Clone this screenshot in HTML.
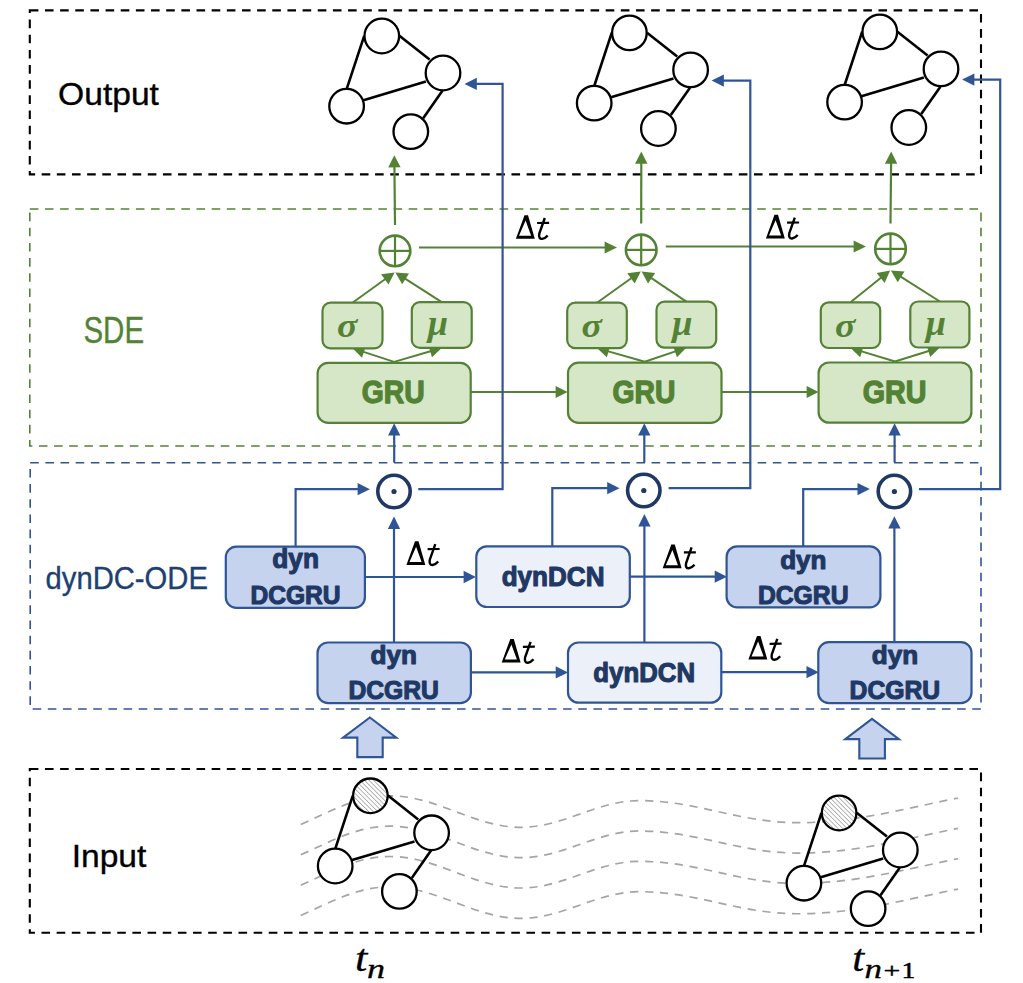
<!DOCTYPE html>
<html><head><meta charset="utf-8"><style>
html,body{margin:0;padding:0;background:#fff;}
svg{display:block;}
text{font-kerning:none;}
</style></head><body>
<svg width="1023" height="983" viewBox="0 0 1023 983">
<rect x="0" y="0" width="1023" height="983" fill="#ffffff"/>
<rect x="29.8" y="10.4" width="951.2" height="164" fill="none" stroke="#000000" stroke-width="2.1" stroke-dasharray="8.6 6.555"/>
<rect x="29.8" y="209" width="951.2" height="237" fill="none" stroke="#548235" stroke-width="1.6" stroke-dasharray="8.6 6.555"/>
<rect x="30.2" y="462.7" width="950.8" height="246.3" fill="none" stroke="#2F5597" stroke-width="1.6" stroke-dasharray="8.6 6.555"/>
<rect x="29.8" y="769" width="951.2" height="163.8" fill="none" stroke="#000000" stroke-width="2.1" stroke-dasharray="8.6 6.555"/>
<text transform="translate(58.08,105.23) scale(1.0499,1)" font-family="Liberation Sans, sans-serif" font-weight="normal" font-style="normal" font-size="32.01" fill="#000000"  stroke="#000000" stroke-width="0.35" stroke-linejoin="round">Output</text>
<text transform="translate(83.44,342.62) scale(0.8094,1)" font-family="Liberation Sans, sans-serif" font-weight="normal" font-style="normal" font-size="36.45" fill="#548235"  stroke="#548235" stroke-width="0.35" stroke-linejoin="round">SDE</text>
<text transform="translate(45.55,588.93) scale(0.9150,1)" font-family="Liberation Sans, sans-serif" font-weight="normal" font-style="normal" font-size="31.95" fill="#203F73"  stroke="#203F73" stroke-width="0.35" stroke-linejoin="round">dynDC-ODE</text>
<text transform="translate(71.68,867.03) scale(1.0672,1)" font-family="Liberation Sans, sans-serif" font-weight="normal" font-style="normal" font-size="31.47" fill="#000000"  stroke="#000000" stroke-width="0.35" stroke-linejoin="round">Input</text>
<path d="M300.8,824.5 C332.0,810.5 357.9,795.8 390,795.8 C437.7,795.8 473.3,827.3 521,827.3 C564.1,827.3 596.3,800.6 639.4,800.6 C696.8,800.6 739.6,822.7 797,822.7 C855.0,822.7 901.6,809.3 958,798.0" fill="none" stroke="#A5A5A5" stroke-width="1.7" stroke-dasharray="8.2 6.7"/>
<path d="M300.8,854.85 C332.0,840.8 357.9,826.1 390,826.15 C437.7,826.1 473.3,857.6 521,857.65 C564.1,857.6 596.3,831.0 639.4,830.95 C696.8,831.0 739.6,853.1 797,853.0500000000001 C855.0,853.1 901.6,839.6 958,828.35" fill="none" stroke="#A5A5A5" stroke-width="1.7" stroke-dasharray="8.2 6.7"/>
<path d="M300.8,885.2 C332.0,871.2 357.9,856.5 390,856.5 C437.7,856.5 473.3,888.0 521,888.0 C564.1,888.0 596.3,861.3 639.4,861.3000000000001 C696.8,861.3 739.6,883.4 797,883.4000000000001 C855.0,883.4 901.6,870.0 958,858.7" fill="none" stroke="#A5A5A5" stroke-width="1.7" stroke-dasharray="8.2 6.7"/>
<path d="M300.8,915.55 C332.0,901.5 357.9,886.8 390,886.8499999999999 C437.7,886.8 473.3,918.3 521,918.3499999999999 C564.1,918.3 596.3,891.7 639.4,891.6500000000001 C696.8,891.7 739.6,913.8 797,913.75 C855.0,913.8 901.6,900.3 958,889.05" fill="none" stroke="#A5A5A5" stroke-width="1.7" stroke-dasharray="8.2 6.7"/>
<defs><pattern id="hatch" patternUnits="userSpaceOnUse" width="3.2" height="3.2" patternTransform="rotate(-45)"><rect width="3.2" height="3.2" fill="#ffffff"/><line x1="0" y1="0" x2="0" y2="3.2" stroke="#555555" stroke-width="0.85"/></pattern></defs>
<line x1="364.20" y1="35.80" x2="346.80" y2="88.60" stroke="#000000" stroke-width="2.6"/>
<line x1="399.40" y1="35.80" x2="429.60" y2="59.60" stroke="#000000" stroke-width="2.6"/>
<line x1="361.80" y1="100.80" x2="425.90" y2="81.60" stroke="#000000" stroke-width="2.6"/>
<line x1="442.40" y1="90.80" x2="423.20" y2="118.20" stroke="#000000" stroke-width="2.6"/>
<circle cx="381.80" cy="36.00" r="17.3" fill="#ffffff" stroke="#000000" stroke-width="2.3"/>
<circle cx="443.00" cy="73.00" r="17.3" fill="#ffffff" stroke="#000000" stroke-width="2.3"/>
<circle cx="346.60" cy="106.20" r="17.3" fill="#ffffff" stroke="#000000" stroke-width="2.3"/>
<circle cx="410.80" cy="131.60" r="17.3" fill="#ffffff" stroke="#000000" stroke-width="2.3"/>
<line x1="611.80" y1="32.70" x2="594.40" y2="85.50" stroke="#000000" stroke-width="2.6"/>
<line x1="647.00" y1="32.70" x2="677.20" y2="56.50" stroke="#000000" stroke-width="2.6"/>
<line x1="609.40" y1="97.70" x2="673.50" y2="78.50" stroke="#000000" stroke-width="2.6"/>
<line x1="690.00" y1="87.70" x2="670.80" y2="115.10" stroke="#000000" stroke-width="2.6"/>
<circle cx="629.40" cy="32.90" r="17.3" fill="#ffffff" stroke="#000000" stroke-width="2.3"/>
<circle cx="690.60" cy="69.90" r="17.3" fill="#ffffff" stroke="#000000" stroke-width="2.3"/>
<circle cx="594.20" cy="103.10" r="17.3" fill="#ffffff" stroke="#000000" stroke-width="2.3"/>
<circle cx="658.40" cy="128.50" r="17.3" fill="#ffffff" stroke="#000000" stroke-width="2.3"/>
<line x1="862.20" y1="31.70" x2="844.80" y2="84.50" stroke="#000000" stroke-width="2.6"/>
<line x1="897.40" y1="31.70" x2="927.60" y2="55.50" stroke="#000000" stroke-width="2.6"/>
<line x1="859.80" y1="96.70" x2="923.90" y2="77.50" stroke="#000000" stroke-width="2.6"/>
<line x1="940.40" y1="86.70" x2="921.20" y2="114.10" stroke="#000000" stroke-width="2.6"/>
<circle cx="879.80" cy="31.90" r="17.3" fill="#ffffff" stroke="#000000" stroke-width="2.3"/>
<circle cx="941.00" cy="68.90" r="17.3" fill="#ffffff" stroke="#000000" stroke-width="2.3"/>
<circle cx="844.60" cy="102.10" r="17.3" fill="#ffffff" stroke="#000000" stroke-width="2.3"/>
<circle cx="908.80" cy="127.50" r="17.3" fill="#ffffff" stroke="#000000" stroke-width="2.3"/>
<line x1="352.80" y1="795.60" x2="335.40" y2="848.40" stroke="#000000" stroke-width="2.6"/>
<line x1="388.00" y1="795.60" x2="418.20" y2="819.40" stroke="#000000" stroke-width="2.6"/>
<line x1="350.40" y1="860.60" x2="414.50" y2="841.40" stroke="#000000" stroke-width="2.6"/>
<line x1="431.00" y1="850.60" x2="411.80" y2="878.00" stroke="#000000" stroke-width="2.6"/>
<circle cx="370.40" cy="795.80" r="17.3" fill="url(#hatch)" stroke="#000000" stroke-width="2.3"/>
<circle cx="431.60" cy="832.80" r="17.3" fill="#ffffff" stroke="#000000" stroke-width="2.3"/>
<circle cx="335.20" cy="866.00" r="17.3" fill="#ffffff" stroke="#000000" stroke-width="2.3"/>
<circle cx="399.40" cy="891.40" r="17.3" fill="#ffffff" stroke="#000000" stroke-width="2.3"/>
<line x1="821.50" y1="812.80" x2="804.10" y2="865.60" stroke="#000000" stroke-width="2.6"/>
<line x1="856.70" y1="812.80" x2="886.90" y2="836.60" stroke="#000000" stroke-width="2.6"/>
<line x1="819.10" y1="877.80" x2="883.20" y2="858.60" stroke="#000000" stroke-width="2.6"/>
<line x1="899.70" y1="867.80" x2="880.50" y2="895.20" stroke="#000000" stroke-width="2.6"/>
<circle cx="839.10" cy="813.00" r="17.3" fill="url(#hatch)" stroke="#000000" stroke-width="2.3"/>
<circle cx="900.30" cy="850.00" r="17.3" fill="#ffffff" stroke="#000000" stroke-width="2.3"/>
<circle cx="803.90" cy="883.20" r="17.3" fill="#ffffff" stroke="#000000" stroke-width="2.3"/>
<circle cx="868.10" cy="908.60" r="17.3" fill="#ffffff" stroke="#000000" stroke-width="2.3"/>
<polyline points="395.0,225 394.402287120033,165.39948711186378" fill="none" stroke="#548235" stroke-width="2.2" stroke-linejoin="miter"/>
<polygon points="394.30,155.20 400.62,167.34 388.22,167.46" fill="#548235"/>
<circle cx="395.0" cy="250.9" r="15.3" fill="#ffffff" stroke="#548235" stroke-width="2.6"/>
<line x1="379.7" y1="250.9" x2="410.3" y2="250.9" stroke="#548235" stroke-width="2.2"/>
<line x1="395.0" y1="235.6" x2="395.0" y2="266.2" stroke="#548235" stroke-width="2.2"/>
<polyline points="352.5,302.7 386.40239531451743,278.2999387641359" fill="none" stroke="#548235" stroke-width="2.0" stroke-linejoin="miter"/>
<polygon points="394.60,272.40 388.49,284.62 381.07,274.31" fill="#548235"/>
<polyline points="441.75,302.1 403.9039409900456,277.8491272363399" fill="none" stroke="#548235" stroke-width="2.0" stroke-linejoin="miter"/>
<polygon points="395.40,272.40 409.01,273.58 402.16,284.27" fill="#548235"/>
<polyline points="394.15,361.9 362.0060545649098,351.4040178171134" fill="none" stroke="#548235" stroke-width="2.0" stroke-linejoin="miter"/>
<polygon points="352.50,348.30 365.82,346.18 362.00,357.87" fill="#548235"/>
<polyline points="394.15,361.9 432.1563449842873,350.7216632399155" fill="none" stroke="#548235" stroke-width="2.0" stroke-linejoin="miter"/>
<polygon points="441.75,347.90 431.97,357.19 428.50,345.39" fill="#548235"/>
<rect x="322.5" y="302.7" width="60.00" height="45.60" rx="8" ry="8" fill="#D5E7C7" stroke="#548235" stroke-width="2.2"/>
<rect x="411.8" y="302.1" width="59.90" height="45.80" rx="8" ry="8" fill="#D5E7C7" stroke="#548235" stroke-width="2.2"/>
<rect x="317.6" y="362.9" width="153.10" height="60.00" rx="10.5" ry="10.5" fill="#D5E7C7" stroke="#548235" stroke-width="2.2"/>
<text transform="translate(361.69,403.35) scale(0.9080,1)" font-family="Liberation Sans, sans-serif" font-weight="bold" font-style="normal" font-size="31.22" fill="#548235"  stroke="#548235" stroke-width="1.3" stroke-linejoin="round">GRU</text>
<text transform="translate(337.11,336.88) scale(0.37850,0.33074)" font-family="Liberation Serif, sans-serif" font-weight="bold" font-style="italic" font-size="100.0" fill="#548235">σ</text>
<text transform="translate(427.70,335.12) scale(0.36401,0.35126)" font-family="Liberation Serif, sans-serif" font-weight="bold" font-style="italic" font-size="100.0" fill="#548235">μ</text>
<polyline points="641.2,223.5 641.2858136437626,161.79999013466664" fill="none" stroke="#548235" stroke-width="2.2" stroke-linejoin="miter"/>
<polygon points="641.30,151.60 647.48,163.81 635.08,163.79" fill="#548235"/>
<circle cx="641.2" cy="249.9" r="15.3" fill="#ffffff" stroke="#548235" stroke-width="2.6"/>
<line x1="625.9000000000001" y1="249.9" x2="656.5" y2="249.9" stroke="#548235" stroke-width="2.2"/>
<line x1="641.2" y1="234.6" x2="641.2" y2="265.2" stroke="#548235" stroke-width="2.2"/>
<polyline points="597.0,302.7 632.5825597864128,277.2722803352803" fill="none" stroke="#548235" stroke-width="2.0" stroke-linejoin="miter"/>
<polygon points="640.80,271.40 634.65,283.60 627.26,273.27" fill="#548235"/>
<polyline points="686.35,301.7 649.9632382616435,277.0627065771575" fill="none" stroke="#548235" stroke-width="2.0" stroke-linejoin="miter"/>
<polygon points="641.60,271.40 655.18,272.93 648.06,283.44" fill="#548235"/>
<polyline points="644.75,361.7 606.6175163224923,350.83922977980933" fill="none" stroke="#548235" stroke-width="2.0" stroke-linejoin="miter"/>
<polygon points="597.00,348.10 610.23,345.47 606.86,357.30" fill="#548235"/>
<polyline points="644.75,361.7 676.8723195677135,350.8896039916349" fill="none" stroke="#548235" stroke-width="2.0" stroke-linejoin="miter"/>
<polygon points="686.35,347.70 676.94,357.36 673.02,345.70" fill="#548235"/>
<rect x="567.2" y="302.7" width="59.60" height="45.40" rx="8" ry="8" fill="#D5E7C7" stroke="#548235" stroke-width="2.2"/>
<rect x="656.5" y="301.7" width="59.70" height="46.00" rx="8" ry="8" fill="#D5E7C7" stroke="#548235" stroke-width="2.2"/>
<rect x="568.0" y="362.7" width="153.50" height="60.20" rx="10.5" ry="10.5" fill="#D5E7C7" stroke="#548235" stroke-width="2.2"/>
<text transform="translate(612.49,403.35) scale(0.9064,1)" font-family="Liberation Sans, sans-serif" font-weight="bold" font-style="normal" font-size="31.22" fill="#548235"  stroke="#548235" stroke-width="1.3" stroke-linejoin="round">GRU</text>
<text transform="translate(581.61,336.88) scale(0.37850,0.33074)" font-family="Liberation Serif, sans-serif" font-weight="bold" font-style="italic" font-size="100.0" fill="#548235">σ</text>
<text transform="translate(672.30,335.12) scale(0.36401,0.35126)" font-family="Liberation Serif, sans-serif" font-weight="bold" font-style="italic" font-size="100.0" fill="#548235">μ</text>
<polyline points="890.5,223.5 891.1007001162361,161.7995166323255" fill="none" stroke="#548235" stroke-width="2.2" stroke-linejoin="miter"/>
<polygon points="891.20,151.60 897.28,163.86 884.88,163.74" fill="#548235"/>
<circle cx="890.5" cy="248.9" r="15.3" fill="#ffffff" stroke="#548235" stroke-width="2.6"/>
<line x1="875.2" y1="248.9" x2="905.8" y2="248.9" stroke="#548235" stroke-width="2.2"/>
<line x1="890.5" y1="233.6" x2="890.5" y2="264.2" stroke="#548235" stroke-width="2.2"/>
<polyline points="850.5,302.3 882.2345855182589,276.7360283325137" fill="none" stroke="#548235" stroke-width="2.0" stroke-linejoin="miter"/>
<polygon points="890.10,270.40 884.66,282.94 876.69,273.05" fill="#548235"/>
<polyline points="939.8499999999999,301.5 899.4249228870336,275.81624314171086" fill="none" stroke="#548235" stroke-width="2.0" stroke-linejoin="miter"/>
<polygon points="890.90,270.40 904.52,271.53 897.71,282.25" fill="#548235"/>
<polyline points="895.0,361.5 860.0693392841544,350.9030579850805" fill="none" stroke="#548235" stroke-width="2.0" stroke-linejoin="miter"/>
<polygon points="850.50,348.00 863.77,345.60 860.20,357.37" fill="#548235"/>
<polyline points="895.0,361.5 930.3042539160291,350.4797200708047" fill="none" stroke="#548235" stroke-width="2.0" stroke-linejoin="miter"/>
<polygon points="939.85,347.50 930.23,356.95 926.56,345.21" fill="#548235"/>
<rect x="820.8" y="302.3" width="59.40" height="45.70" rx="8" ry="8" fill="#D5E7C7" stroke="#548235" stroke-width="2.2"/>
<rect x="910.3" y="301.5" width="59.10" height="46.00" rx="8" ry="8" fill="#D5E7C7" stroke="#548235" stroke-width="2.2"/>
<rect x="818.6" y="362.5" width="152.80" height="60.20" rx="10.5" ry="10.5" fill="#D5E7C7" stroke="#548235" stroke-width="2.2"/>
<text transform="translate(862.77,403.35) scale(0.9185,1)" font-family="Liberation Sans, sans-serif" font-weight="bold" font-style="normal" font-size="31.22" fill="#548235"  stroke="#548235" stroke-width="1.3" stroke-linejoin="round">GRU</text>
<text transform="translate(835.11,336.88) scale(0.37850,0.33074)" font-family="Liberation Serif, sans-serif" font-weight="bold" font-style="italic" font-size="100.0" fill="#548235">σ</text>
<text transform="translate(925.80,335.12) scale(0.36401,0.35126)" font-family="Liberation Serif, sans-serif" font-weight="bold" font-style="italic" font-size="100.0" fill="#548235">μ</text>
<polyline points="419.0,247.5 606.6,247.5" fill="none" stroke="#548235" stroke-width="2.2" stroke-linejoin="miter"/>
<polygon points="617.00,247.50 604.60,253.40 604.60,241.60" fill="#548235"/>
<polyline points="665.8,246.5 855.6,246.5" fill="none" stroke="#548235" stroke-width="2.2" stroke-linejoin="miter"/>
<polygon points="866.00,246.50 853.60,252.40 853.60,240.60" fill="#548235"/>
<polyline points="470.7,392.0 557.6,392.0" fill="none" stroke="#548235" stroke-width="2.2" stroke-linejoin="miter"/>
<polygon points="567.60,392.00 555.60,397.90 555.60,386.10" fill="#548235"/>
<polyline points="721.5,392.0 808.6,392.0" fill="none" stroke="#548235" stroke-width="2.2" stroke-linejoin="miter"/>
<polygon points="818.60,392.00 806.60,397.90 806.60,386.10" fill="#548235"/>
<g transform="translate(515.90,238.80) scale(1.0)"><path d="M0,0 L18.9,0 L12.1,-23.6 L8.6,-23.6 Z M3.1,-3.0 L15.2,-3.0 L9.7,-18.2 Z" fill="#000" fill-rule="evenodd"/><path d="M28.9,-20.8 L23.4,-5.2 Q22.4,0.3 26.2,0.1 Q29.2,-0.3 31.8,-3.4" fill="none" stroke="#000" stroke-width="2.4" stroke-linecap="butt"/><path d="M21.2,-15.8 L33.2,-15.9" fill="none" stroke="#000" stroke-width="2.2"/></g>
<g transform="translate(765.90,238.40) scale(1.0)"><path d="M0,0 L18.9,0 L12.1,-23.6 L8.6,-23.6 Z M3.1,-3.0 L15.2,-3.0 L9.7,-18.2 Z" fill="#000" fill-rule="evenodd"/><path d="M28.9,-20.8 L23.4,-5.2 Q22.4,0.3 26.2,0.1 Q29.2,-0.3 31.8,-3.4" fill="none" stroke="#000" stroke-width="2.4" stroke-linecap="butt"/><path d="M21.2,-15.8 L33.2,-15.9" fill="none" stroke="#000" stroke-width="2.2"/></g>
<polyline points="394.2,462.5 394.2,433.6" fill="none" stroke="#2F5597" stroke-width="2.2" stroke-linejoin="miter"/>
<polygon points="394.20,423.30 400.35,435.60 388.05,435.60" fill="#2F5597"/>
<polyline points="644.3,462.5 644.3,433.6" fill="none" stroke="#2F5597" stroke-width="2.2" stroke-linejoin="miter"/>
<polygon points="644.30,423.30 650.45,435.60 638.15,435.60" fill="#2F5597"/>
<polyline points="894.6,462.5 894.6,433.6" fill="none" stroke="#2F5597" stroke-width="2.2" stroke-linejoin="miter"/>
<polygon points="894.60,423.30 900.75,435.60 888.45,435.60" fill="#2F5597"/>
<polyline points="418.3,489.2 502.6,489.2 502.6,83.9 474.8,83.9" fill="none" stroke="#2F5597" stroke-width="2.2" stroke-linejoin="miter"/>
<polygon points="464.50,83.90 476.80,77.75 476.80,90.05" fill="#2F5597"/>
<polyline points="668.6,488.2 750.3,488.2 750.3,80.6 721.9,80.6" fill="none" stroke="#2F5597" stroke-width="2.2" stroke-linejoin="miter"/>
<polygon points="711.60,80.60 723.90,74.45 723.90,86.75" fill="#2F5597"/>
<polyline points="919.0,489.1 1000.2,489.1 1000.2,79.6 972.4,79.6" fill="none" stroke="#2F5597" stroke-width="2.2" stroke-linejoin="miter"/>
<polygon points="962.10,79.60 974.40,73.45 974.40,85.75" fill="#2F5597"/>
<polyline points="394.0,642.9 394.0,526.9" fill="none" stroke="#2F5597" stroke-width="2.2" stroke-linejoin="miter"/>
<polygon points="394.00,516.60 400.15,528.90 387.85,528.90" fill="#2F5597"/>
<polyline points="644.4,642.5 644.4,524.4" fill="none" stroke="#2F5597" stroke-width="2.2" stroke-linejoin="miter"/>
<polygon points="644.40,514.10 650.55,526.40 638.25,526.40" fill="#2F5597"/>
<polyline points="894.4,642.9 894.4,526.5999999999999" fill="none" stroke="#2F5597" stroke-width="2.2" stroke-linejoin="miter"/>
<polygon points="894.40,516.30 900.55,528.60 888.25,528.60" fill="#2F5597"/>
<polyline points="295.6,547.0 295.6,489.2 359.59999999999997,489.2" fill="none" stroke="#2F5597" stroke-width="2.2" stroke-linejoin="miter"/>
<polygon points="369.90,489.20 357.60,495.35 357.60,483.05" fill="#2F5597"/>
<polyline points="552.3,546.3 552.3,488.2 609.2,488.2" fill="none" stroke="#2F5597" stroke-width="2.2" stroke-linejoin="miter"/>
<polygon points="619.50,488.20 607.20,494.35 607.20,482.05" fill="#2F5597"/>
<polyline points="803.2,546.3 803.2,489.1 859.5,489.1" fill="none" stroke="#2F5597" stroke-width="2.2" stroke-linejoin="miter"/>
<polygon points="869.80,489.10 857.50,495.25 857.50,482.95" fill="#2F5597"/>
<polyline points="364.9,577.0 465.59999999999997,577.0" fill="none" stroke="#2F5597" stroke-width="2.2" stroke-linejoin="miter"/>
<polygon points="475.90,577.00 463.60,583.15 463.60,570.85" fill="#2F5597"/>
<polyline points="629.8,576.7 716.7,576.7" fill="none" stroke="#2F5597" stroke-width="2.2" stroke-linejoin="miter"/>
<polygon points="727.00,576.70 714.70,582.85 714.70,570.55" fill="#2F5597"/>
<polyline points="470.5,672.4 557.7,672.4" fill="none" stroke="#2F5597" stroke-width="2.2" stroke-linejoin="miter"/>
<polygon points="568.00,672.40 555.70,678.55 555.70,666.25" fill="#2F5597"/>
<polyline points="721.3,672.2 808.5,672.2" fill="none" stroke="#2F5597" stroke-width="2.2" stroke-linejoin="miter"/>
<polygon points="818.80,672.20 806.50,678.35 806.50,666.05" fill="#2F5597"/>
<circle cx="394.0" cy="491.5" r="16.2" fill="#ffffff" stroke="#203864" stroke-width="3.6"/>
<circle cx="394.0" cy="491.5" r="2.6" fill="#203864"/>
<circle cx="643.8" cy="490.5" r="16.2" fill="#ffffff" stroke="#203864" stroke-width="3.6"/>
<circle cx="643.8" cy="490.5" r="2.6" fill="#203864"/>
<circle cx="894.4" cy="491.5" r="16.2" fill="#ffffff" stroke="#203864" stroke-width="3.6"/>
<circle cx="894.4" cy="491.5" r="2.6" fill="#203864"/>
<rect x="225.8" y="546.6" width="139.10" height="61.20" rx="10.5" ry="10.5" fill="#C5D3EE" stroke="#2F5597" stroke-width="2.2"/>
<text transform="translate(272.27,568.45) scale(0.9735,1)" font-family="Liberation Sans, sans-serif" font-weight="bold" font-style="normal" font-size="27.05" fill="#1F3864"  stroke="#1F3864" stroke-width="1.1" stroke-linejoin="round">dyn</text>
<text transform="translate(250.41,604.15) scale(0.9866,1)" font-family="Liberation Sans, sans-serif" font-weight="bold" font-style="normal" font-size="24.92" fill="#1F3864"  stroke="#1F3864" stroke-width="1.1" stroke-linejoin="round">DCGRU</text>
<rect x="476.3" y="546.3" width="153.50" height="60.70" rx="10.5" ry="10.5" fill="#ECF0F9" stroke="#2F5597" stroke-width="2.2"/>
<text transform="translate(501.68,586.15) scale(0.9492,1)" font-family="Liberation Sans, sans-serif" font-weight="bold" font-style="normal" font-size="27.46" fill="#1F3864"  stroke="#1F3864" stroke-width="1.1" stroke-linejoin="round">dynDCN</text>
<rect x="726.6" y="546.3" width="153.80" height="61.00" rx="10.5" ry="10.5" fill="#C5D3EE" stroke="#2F5597" stroke-width="2.2"/>
<text transform="translate(780.18,568.55) scale(1.0004,1)" font-family="Liberation Sans, sans-serif" font-weight="bold" font-style="normal" font-size="26.08" fill="#1F3864"  stroke="#1F3864" stroke-width="1.1" stroke-linejoin="round">dyn</text>
<text transform="translate(757.90,604.15) scale(0.9487,1)" font-family="Liberation Sans, sans-serif" font-weight="bold" font-style="normal" font-size="26.07" fill="#1F3864"  stroke="#1F3864" stroke-width="1.1" stroke-linejoin="round">DCGRU</text>
<rect x="317.5" y="642.5" width="153.40" height="60.60" rx="10.5" ry="10.5" fill="#C5D3EE" stroke="#2F5597" stroke-width="2.2"/>
<text transform="translate(370.58,664.35) scale(1.0080,1)" font-family="Liberation Sans, sans-serif" font-weight="bold" font-style="normal" font-size="25.95" fill="#1F3864"  stroke="#1F3864" stroke-width="1.1" stroke-linejoin="round">dyn</text>
<text transform="translate(348.40,699.15) scale(0.9900,1)" font-family="Liberation Sans, sans-serif" font-weight="bold" font-style="normal" font-size="24.92" fill="#1F3864"  stroke="#1F3864" stroke-width="1.1" stroke-linejoin="round">DCGRU</text>
<rect x="568.0" y="642.5" width="153.30" height="60.20" rx="10.5" ry="10.5" fill="#ECF0F9" stroke="#2F5597" stroke-width="2.2"/>
<text transform="translate(593.29,681.75) scale(0.9541,1)" font-family="Liberation Sans, sans-serif" font-weight="bold" font-style="normal" font-size="27.05" fill="#1F3864"  stroke="#1F3864" stroke-width="1.1" stroke-linejoin="round">dynDCN</text>
<rect x="818.3" y="642.1" width="153.20" height="61.00" rx="10.5" ry="10.5" fill="#C5D3EE" stroke="#2F5597" stroke-width="2.2"/>
<text transform="translate(871.78,664.35) scale(0.9870,1)" font-family="Liberation Sans, sans-serif" font-weight="bold" font-style="normal" font-size="26.50" fill="#1F3864"  stroke="#1F3864" stroke-width="1.1" stroke-linejoin="round">dyn</text>
<text transform="translate(849.60,699.15) scale(0.9923,1)" font-family="Liberation Sans, sans-serif" font-weight="bold" font-style="normal" font-size="24.92" fill="#1F3864"  stroke="#1F3864" stroke-width="1.1" stroke-linejoin="round">DCGRU</text>
<g transform="translate(406.40,564.90) scale(1.0)"><path d="M0,0 L18.9,0 L12.1,-23.6 L8.6,-23.6 Z M3.1,-3.0 L15.2,-3.0 L9.7,-18.2 Z" fill="#000" fill-rule="evenodd"/><path d="M28.9,-20.8 L23.4,-5.2 Q22.4,0.3 26.2,0.1 Q29.2,-0.3 31.8,-3.4" fill="none" stroke="#000" stroke-width="2.4" stroke-linecap="butt"/><path d="M21.2,-15.8 L33.2,-15.9" fill="none" stroke="#000" stroke-width="2.2"/></g>
<g transform="translate(662.70,568.20) scale(1.0)"><path d="M0,0 L18.9,0 L12.1,-23.6 L8.6,-23.6 Z M3.1,-3.0 L15.2,-3.0 L9.7,-18.2 Z" fill="#000" fill-rule="evenodd"/><path d="M28.9,-20.8 L23.4,-5.2 Q22.4,0.3 26.2,0.1 Q29.2,-0.3 31.8,-3.4" fill="none" stroke="#000" stroke-width="2.4" stroke-linecap="butt"/><path d="M21.2,-15.8 L33.2,-15.9" fill="none" stroke="#000" stroke-width="2.2"/></g>
<g transform="translate(501.70,662.60) scale(1.0)"><path d="M0,0 L18.9,0 L12.1,-23.6 L8.6,-23.6 Z M3.1,-3.0 L15.2,-3.0 L9.7,-18.2 Z" fill="#000" fill-rule="evenodd"/><path d="M28.9,-20.8 L23.4,-5.2 Q22.4,0.3 26.2,0.1 Q29.2,-0.3 31.8,-3.4" fill="none" stroke="#000" stroke-width="2.4" stroke-linecap="butt"/><path d="M21.2,-15.8 L33.2,-15.9" fill="none" stroke="#000" stroke-width="2.2"/></g>
<g transform="translate(748.40,659.60) scale(1.0)"><path d="M0,0 L18.9,0 L12.1,-23.6 L8.6,-23.6 Z M3.1,-3.0 L15.2,-3.0 L9.7,-18.2 Z" fill="#000" fill-rule="evenodd"/><path d="M28.9,-20.8 L23.4,-5.2 Q22.4,0.3 26.2,0.1 Q29.2,-0.3 31.8,-3.4" fill="none" stroke="#000" stroke-width="2.4" stroke-linecap="butt"/><path d="M21.2,-15.8 L33.2,-15.9" fill="none" stroke="#000" stroke-width="2.2"/></g>
<polygon points="369.9,717.5 396.3,737.6 382.7,737.6 382.7,757.1 357.3,757.1 357.3,737.6 343.0,737.6" fill="#C5D3EE" stroke="#2F5597" stroke-width="2.1" stroke-linejoin="miter"/>
<polygon points="872.0,718.8 898.9,739.1 884.9,739.1 884.9,758.5 859.3,758.5 859.3,739.1 845.2,739.1" fill="#C5D3EE" stroke="#2F5597" stroke-width="2.1" stroke-linejoin="miter"/>
<text transform="translate(354.91,971.35) scale(1.1714,1)" font-family="Liberation Serif, sans-serif" font-weight="normal" font-style="italic" font-size="37.66" fill="#000000"  stroke="#000000" stroke-width="0.3" stroke-linejoin="round">t</text>
<text transform="translate(367.06,977.75) scale(1.3216,1)" font-family="Liberation Serif, sans-serif" font-weight="normal" font-style="italic" font-size="27.38" fill="#000000"  stroke="#000000" stroke-width="0.3" stroke-linejoin="round">n</text>
<text transform="translate(852.26,971.35) scale(1.1400,1)" font-family="Liberation Serif, sans-serif" font-weight="normal" font-style="italic" font-size="37.66" fill="#000000"  stroke="#000000" stroke-width="0.3" stroke-linejoin="round">t</text>
<text transform="translate(864.60,977.75) scale(1.2784,1)" font-family="Liberation Serif, sans-serif" font-weight="normal" font-style="italic" font-size="27.38" fill="#000000"  stroke="#000000" stroke-width="0.3" stroke-linejoin="round">n</text>
<text transform="translate(883.42,977.70) scale(1.4569,1)" font-family="Liberation Serif, sans-serif" font-weight="normal" font-style="normal" font-size="20.36" fill="#000000"  stroke="#000000" stroke-width="0.4" stroke-linejoin="round">+</text>
<text transform="translate(901.60,977.65) scale(1.2170,1)" font-family="Liberation Serif, sans-serif" font-weight="normal" font-style="normal" font-size="22.87" fill="#000000"  stroke="#000000" stroke-width="0.5" stroke-linejoin="round">1</text>
</svg>
</body></html>
